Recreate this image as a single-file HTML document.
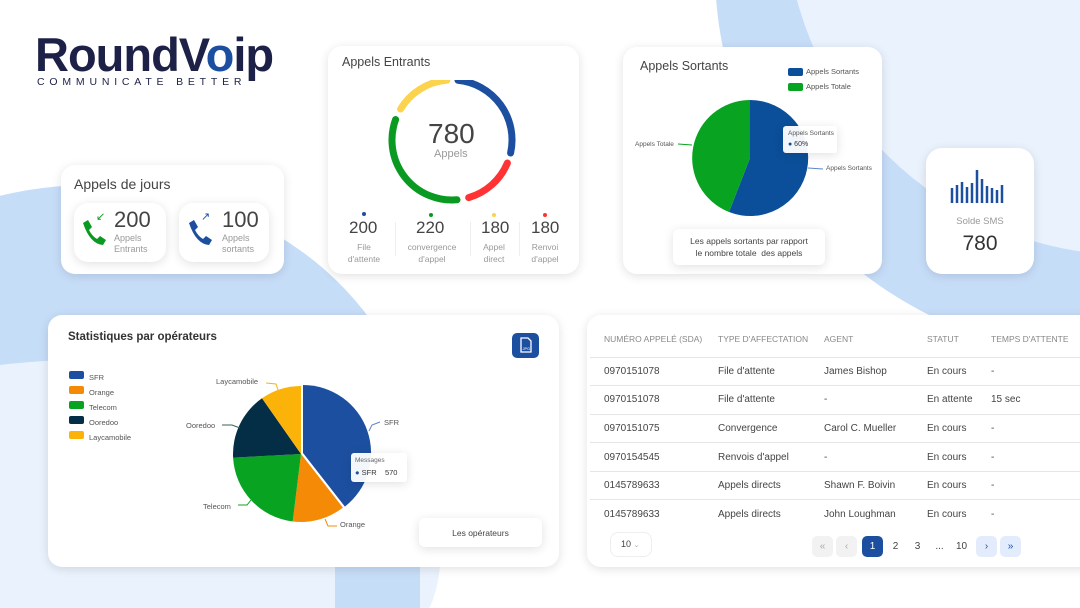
<!DOCTYPE html>
<html><head><meta charset="utf-8"><style>
*{margin:0;padding:0;box-sizing:border-box}
html,body{width:1080px;height:608px;overflow:hidden}
body{background:#fff;font-family:"Liberation Sans",sans-serif;position:relative;color:#333}
.abs{position:absolute}
.card{position:absolute;background:#fff;border-radius:14px;box-shadow:0 2px 10px rgba(0,0,0,.12)}
.t{position:absolute;white-space:nowrap}
.g{color:#999}
table{border-collapse:collapse;font-size:10px;color:#444;table-layout:fixed}
td,th{text-align:left;padding:0 0 0 14px;height:28.6px;border-bottom:1px solid #e6e6e6;font-weight:normal;white-space:nowrap;overflow:hidden}
th{color:#888;font-size:8.5px;height:36px}
.pg{position:absolute;top:536px;width:21px;height:21px;border-radius:5px;font-size:10px;text-align:center;line-height:21px}
</style></head><body>
<svg class="abs" style="left:0;top:0" width="1080" height="608">
<circle cx="1100" cy="-30" r="385" fill="#c6ddf8"/>
<circle cx="1130" cy="-90" r="345" fill="#eaf2fd"/>
<ellipse cx="90" cy="470" rx="330" ry="285" fill="#c6ddf8"/>
<ellipse cx="80" cy="560" rx="360" ry="200" fill="#eaf2fd"/>
<rect x="335" y="560" width="85" height="48" fill="#c6ddf8"/>
</svg>
<div class="t" style="left:35px;top:27px;font-size:47px;font-weight:bold;color:#1d2147;letter-spacing:-1px">RoundV<span style="color:#1d4fa0">o</span>ip</div>
<div class="t" style="left:37px;top:76px;font-size:10.5px;color:#1d2147;letter-spacing:4.8px">COMMUNICATE BETTER</div>

<div class="card" style="left:61px;top:165px;width:223px;height:109px"></div>
<div class="t" style="left:74px;top:176px;font-size:14px;color:#444">Appels de jours</div>
<div class="card" style="left:74px;top:203px;width:92px;height:59px;border-radius:14px"></div>
<div class="card" style="left:179px;top:203px;width:90px;height:59px;border-radius:14px"></div>
<svg class="abs" style="left:80px;top:218px" width="26" height="28"><path d="M3,5 L8,2 L12,9 L9,12 Q12,18 17,21 L20,18 L26,22 L23,27 Q10,26 3,5Z" fill="#0a9a22"/></svg>
<div class="t" style="left:96px;top:210px;font-size:11px;color:#0a9a22">↙</div>
<svg class="abs" style="left:186px;top:218px" width="26" height="28"><path d="M3,5 L8,2 L12,9 L9,12 Q12,18 17,21 L20,18 L26,22 L23,27 Q10,26 3,5Z" fill="#1d4fa0"/></svg>
<div class="t" style="left:201px;top:210px;font-size:11px;color:#1d4fa0">↗</div>
<div class="t" style="left:114px;top:207px;font-size:22px;color:#444">200</div>
<div class="t g" style="left:114px;top:233px;font-size:9px;line-height:11px">Appels<br>Entrants</div>
<div class="t" style="left:222px;top:207px;font-size:22px;color:#444">100</div>
<div class="t g" style="left:222px;top:233px;font-size:9px;line-height:11px">Appels<br>sortants</div>

<div class="card" style="left:328px;top:46px;width:251px;height:228px"></div>
<div class="t" style="left:342px;top:55px;font-size:12.5px;color:#444">Appels Entrants</div>
<svg class="abs" style="left:382px;top:80px" width="140" height="130">
<g fill="none" stroke-width="7" stroke-linecap="round" transform="translate(70,60)">
<path d="M6,-59.7 A60,60 0 0 1 58.6,13" stroke="#1d4fa0"/>
<path d="M55.4,23 A60,60 0 0 1 16.7,57.6" stroke="#f33"/>
<path d="M5,59.8 A60,60 0 0 1 -56.4,-20.5" stroke="#0a9a22"/>
<path d="M-51.4,-31 A60,60 0 0 1 -5.2,-59.8" stroke="#fcd34d"/>
</g></svg>
<div class="t" style="left:428px;top:118px;font-size:28px;color:#444">780</div>
<div class="t g" style="left:434px;top:148px;font-size:11px">Appels</div>
<div class="abs" style="left:362px;top:212px;width:4px;height:4px;border-radius:2px;background:#1d4fa0"></div>
<div class="abs" style="left:429px;top:213px;width:4px;height:4px;border-radius:2px;background:#0a9a22"></div>
<div class="abs" style="left:492px;top:213px;width:4px;height:4px;border-radius:2px;background:#fcd34d"></div>
<div class="abs" style="left:543px;top:213px;width:4px;height:4px;border-radius:2px;background:#f33"></div>
<div class="t" style="left:349px;top:218px;font-size:17px;color:#444">200</div>
<div class="t" style="left:416px;top:218px;font-size:17px;color:#444">220</div>
<div class="t" style="left:481px;top:218px;font-size:17px;color:#444">180</div>
<div class="t" style="left:531px;top:218px;font-size:17px;color:#444">180</div>
<div class="t g" style="left:364px;top:241px;font-size:8.5px;line-height:12px;text-align:center;transform:translateX(-50%)">File<br>d'attente</div>
<div class="t g" style="left:432px;top:241px;font-size:8.5px;line-height:12px;text-align:center;transform:translateX(-50%)">convergence<br>d'appel</div>
<div class="t g" style="left:494px;top:241px;font-size:8.5px;line-height:12px;text-align:center;transform:translateX(-50%)">Appel<br>direct</div>
<div class="t g" style="left:545px;top:241px;font-size:8.5px;line-height:12px;text-align:center;transform:translateX(-50%)">Renvoi<br>d'appel</div>
<div class="abs" style="left:395px;top:222px;width:1px;height:34px;background:#eee"></div>
<div class="abs" style="left:470px;top:222px;width:1px;height:34px;background:#eee"></div>
<div class="abs" style="left:519px;top:222px;width:1px;height:34px;background:#eee"></div>

<div class="card" style="left:623px;top:47px;width:259px;height:227px"></div>
<div class="t" style="left:640px;top:59px;font-size:12.5px;color:#444">Appels Sortants</div>
<div class="abs" style="left:788px;top:68px;width:15px;height:8px;border-radius:2px;background:#0b4f9a"></div>
<div class="abs" style="left:788px;top:83px;width:15px;height:8px;border-radius:2px;background:#08a321"></div>
<div class="t" style="left:806px;top:67px;font-size:7.5px;color:#555">Appels Sortants</div>
<div class="t" style="left:806px;top:82px;font-size:7.5px;color:#555">Appels Totale</div>
<svg class="abs" style="left:623px;top:47px" width="259" height="227">
<path d="M127,111 L127,53 A58,58 0 1 1 106,165 Z" fill="#0b4f9a"/>
<path d="M127,111 L106,165 A58,58 0 0 1 127,53 Z" fill="#08a321"/>
<path d="M69,98 L55,97" stroke="#08a321" fill="none"/>
<path d="M185,121 L200,122" stroke="#5b86c4" fill="none"/>
</svg>
<div class="t" style="left:635px;top:141px;font-size:6.5px;color:#555">Appels Totale</div>
<div class="t" style="left:826px;top:165px;font-size:6.5px;color:#555">Appels Sortants</div>
<div class="card" style="left:783px;top:126px;width:54px;height:27px;border-radius:3px;background:rgba(255,255,255,.95)"></div>
<div class="t" style="left:788px;top:130px;font-size:6.5px;color:#555">Appels Sortants</div>
<div class="t" style="left:788px;top:141px;font-size:7px;color:#333"><span style="color:#0b4f9a">●</span> 60%</div>
<div class="card" style="left:673px;top:229px;width:152px;height:36px;border-radius:6px"></div>
<div class="t" style="left:673px;top:235px;width:152px;text-align:center;font-size:8.5px;line-height:12px;color:#444">Les appels sortants par rapport<br>le nombre totale&nbsp; des appels</div>

<div class="card" style="left:926px;top:148px;width:108px;height:126px;border-radius:16px"></div>
<svg class="abs" style="left:950px;top:168px" width="60" height="36">
<g stroke="#1d4fa0" stroke-width="2.5">
<line x1="2" y1="35" x2="2" y2="20"/><line x1="7" y1="35" x2="7" y2="17"/><line x1="12" y1="35" x2="12" y2="14"/><line x1="17" y1="35" x2="17" y2="19"/><line x1="22" y1="35" x2="22" y2="15"/><line x1="27" y1="35" x2="27" y2="2"/><line x1="32" y1="35" x2="32" y2="11"/><line x1="37" y1="35" x2="37" y2="18"/><line x1="42" y1="35" x2="42" y2="20"/><line x1="47" y1="35" x2="47" y2="22"/><line x1="52" y1="35" x2="52" y2="17"/>
</g></svg>
<div class="t g" style="left:926px;top:216px;width:108px;text-align:center;font-size:9.5px">Solde SMS</div>
<div class="t" style="left:926px;top:232px;width:108px;text-align:center;font-size:21px;color:#333">780</div>

<div class="card" style="left:48px;top:315px;width:511px;height:252px"></div>
<div class="t" style="left:68px;top:331px;font-size:11.5px;font-weight:bold;color:#333">Statistiques par opérateurs</div>
<div class="abs" style="left:512px;top:333px;width:27px;height:25px;border-radius:5px;background:#1d4fa0"></div>
<svg class="abs" style="left:512px;top:333px" width="27" height="25"><path d="M9,5 L16,5 L19,8 L19,19 L9,19 Z" fill="none" stroke="#fff" stroke-width="1.3"/><text x="10.5" y="17" font-size="4" fill="#fff" font-family="Liberation Sans">JPG</text></svg>
<div class="abs" style="left:69px;top:371px;width:15px;height:8px;border-radius:2px;background:#1d4fa0"></div>
<div class="abs" style="left:69px;top:386px;width:15px;height:8px;border-radius:2px;background:#f58a07"></div>
<div class="abs" style="left:69px;top:401px;width:15px;height:8px;border-radius:2px;background:#08a321"></div>
<div class="abs" style="left:69px;top:416px;width:15px;height:8px;border-radius:2px;background:#032e45"></div>
<div class="abs" style="left:69px;top:431px;width:15px;height:8px;border-radius:2px;background:#fbb30a"></div>
<div class="t" style="left:89px;top:370px;font-size:7.5px;color:#555;line-height:15px">SFR<br>Orange<br>Telecom<br>Ooredoo<br>Laycamobile</div>
<svg class="abs" style="left:0;top:0" width="600" height="608">
<g transform="translate(301,454)">
<path d="M0,0 L41.9,53.6 A68,68 0 0 1 -8.3,67.5 Z" fill="#f58a07"/>
<path d="M0,0 L-8.3,67.5 A68,68 0 0 1 -67.9,3.6 Z" fill="#08a321"/>
<path d="M0,0 L-67.9,3.6 A68,68 0 0 1 -39,-55.7 Z" fill="#032e45"/>
<path d="M0,0 L-39,-55.7 A68,68 0 0 1 0,-68 Z" fill="#fbb30a"/>
<path d="M0,0 L0,-68 A68,68 0 0 1 41.9,53.6 Z" fill="#1d4fa0" transform="translate(2,-1)"/>
</g>
<g fill="none" stroke-width="1">
<path d="M369,431 L372,425 L380,422" stroke="#5b86c4"/>
<path d="M325,519 L328,526 L337,526" stroke="#f58a07"/>
<path d="M251,500 L247,505 L238,505" stroke="#08a321"/>
<path d="M240,428 L232,425 L222,425" stroke="#365"/>
<path d="M279,393 L276,384 L266,383" stroke="#fbb30a"/>
</g></svg>
<div class="t" style="left:384px;top:418px;font-size:7.5px;color:#555">SFR</div>
<div class="t" style="left:340px;top:520px;font-size:7.5px;color:#555">Orange</div>
<div class="t" style="left:203px;top:502px;font-size:7.5px;color:#555">Telecom</div>
<div class="t" style="left:186px;top:421px;font-size:7.5px;color:#555">Ooredoo</div>
<div class="t" style="left:216px;top:377px;font-size:7.5px;color:#555">Laycamobile</div>
<div class="card" style="left:351px;top:453px;width:56px;height:29px;border-radius:3px;background:rgba(255,255,255,.95)"></div>
<div class="t" style="left:355px;top:457px;font-size:6.5px;color:#666">Messages</div>
<div class="t" style="left:355px;top:468px;font-size:7.5px;color:#333"><span style="color:#1d4fa0">●</span> SFR &nbsp;&nbsp; 570</div>
<div class="card" style="left:419px;top:518px;width:123px;height:29px;border-radius:6px"></div>
<div class="t" style="left:419px;top:528px;width:123px;text-align:center;font-size:8.5px;color:#444">Les opérateurs</div>

<div class="card" style="left:587px;top:315px;width:510px;height:252px"></div>
<table class="abs" style="left:590px;top:321px;width:500px">
<colgroup><col style="width:114px"><col style="width:106px"><col style="width:103px"><col style="width:64px"><col></colgroup>
<tr><th>NUMÉRO APPELÉ (SDA)</th><th>TYPE D'AFFECTATION</th><th>AGENT</th><th>STATUT</th><th>TEMPS D'ATTENTE</th></tr>
<tr><td>0970151078</td><td>File d'attente</td><td>James Bishop</td><td>En cours</td><td>-</td></tr>
<tr><td>0970151078</td><td>File d'attente</td><td>-</td><td>En attente</td><td>15 sec</td></tr>
<tr><td>0970151075</td><td>Convergence</td><td>Carol C. Mueller</td><td>En cours</td><td>-</td></tr>
<tr><td>0970154545</td><td>Renvois d'appel</td><td>-</td><td>En cours</td><td>-</td></tr>
<tr><td>0145789633</td><td>Appels directs</td><td>Shawn F. Boivin</td><td>En cours</td><td>-</td></tr>
<tr><td style="border:none">0145789633</td><td style="border:none">Appels directs</td><td style="border:none">John Loughman</td><td style="border:none">En cours</td><td style="border:none">-</td></tr>
</table>
<div class="abs" style="left:610px;top:532px;width:42px;height:25px;border:1px solid #eee;border-radius:8px;font-size:9px;line-height:23px;padding-left:10px;color:#444">10 <span style="color:#aaa;font-size:7px">⌄</span></div>
<div class="pg" style="left:812px;background:#f2f2f2;color:#aaa">«</div>
<div class="pg" style="left:836px;background:#f2f2f2;color:#aaa">‹</div>
<div class="pg" style="left:862px;background:#1d4fa0;color:#fff">1</div>
<div class="pg" style="left:885px;color:#444">2</div>
<div class="pg" style="left:907px;color:#444">3</div>
<div class="pg" style="left:929px;color:#444">...</div>
<div class="pg" style="left:951px;color:#444">10</div>
<div class="pg" style="left:976px;background:#e3ecfd;color:#1d4fa0">›</div>
<div class="pg" style="left:1000px;background:#e3ecfd;color:#1d4fa0">»</div>
</body></html>
